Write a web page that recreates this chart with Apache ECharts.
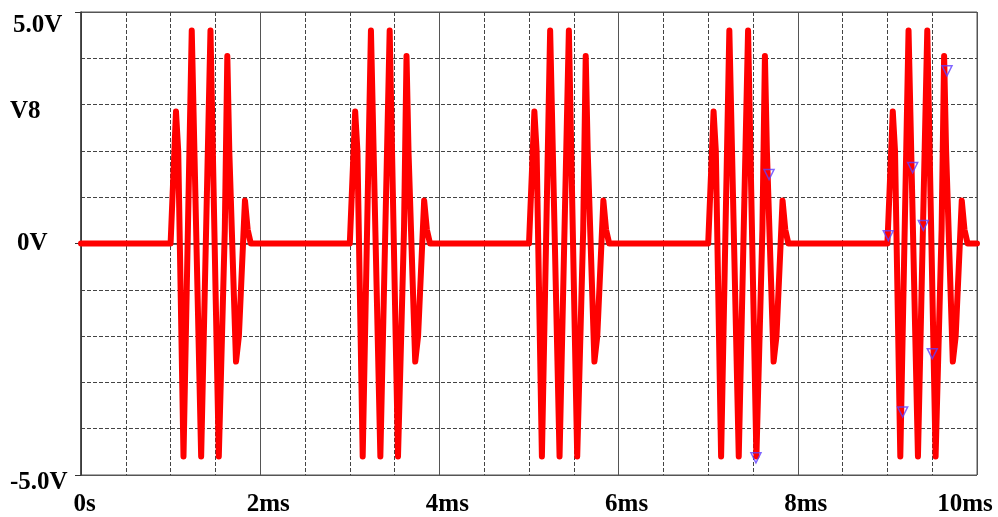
<!DOCTYPE html>
<html>
<head>
<meta charset="utf-8">
<script src="https://cdn.jsdelivr.net/npm/echarts@6/dist/echarts.min.js"></script>
<style>
html,body{margin:0;padding:0;background:#fff;}
#chart{width:998px;height:517px;}
</style>
</head>
<body>
<div id="chart"></div>
<script>
// ---- data ----
const traceName = 'V8';
const burstStarts = [1, 3, 5, 7, 9];               // ms
const burstOffsets = [0.000, 0.060, 0.085, 0.144, 0.156, 0.236, 0.248, 0.341, 0.353,
                      0.445, 0.457, 0.538, 0.550, 0.605, 0.633, 0.655, 0.730, 0.762,
                      0.830, 0.860, 0.895];         // ms after burst start
const burstVolts   = [0.00, 2.85, 2.00, -4.60, -4.60, 4.60, 4.60, -4.60, -4.60,
                      4.60, 4.60, -4.60, -4.60, 0.30, 4.05, 2.00, -2.55, -2.00,
                      0.93, 0.30, 0.00];            // V
const markerTimes = [7.533, 7.679, 9.010, 9.170, 9.282, 9.401, 9.501, 9.665];
const markerVolts = [-4.63, 1.49, 0.17, -3.64, 1.64, 0.39, -2.38, 3.73];
const xTickValues = [0, 2, 4, 6, 8, 10];
const xTickLabels = ['0s', '2ms', '4ms', '6ms', '8ms', '10ms'];
const yTickValues = [-5, 0, 5];
const yTickLabels = ['-5.0V', '0V', '5.0V'];

// ---- build series data ----
const lineData = [[0, 0]];
burstStarts.forEach(function (s) {
  burstOffsets.forEach(function (o, i) { lineData.push([s + o, burstVolts[i]]); });
});
lineData.push([10, 0]);
const markerData = markerTimes.map(function (t, i) { return [t, markerVolts[i]]; });

const FONT = '"Liberation Serif", "Times New Roman", serif';
const chart = echarts.init(document.getElementById('chart'), null, {renderer: 'canvas'});

chart.setOption({
  animation: false,
  backgroundColor: '#ffffff',
  grid: {left: 81, right: 21, top: 12, bottom: 41, show: true, borderColor: '#555', borderWidth: 1},
  xAxis: {
    type: 'value', min: 0, max: 10, interval: 2,
    axisLine: {show: true, lineStyle: {color: '#333', width: 1.5}},
    axisTick: {show: true, length: 6, inside: false, lineStyle: {color: '#333'}},
    minorTick: {show: true, splitNumber: 4, length: 0},
    splitLine: {show: true, lineStyle: {color: '#555', width: 1, type: 'solid'}},
    minorSplitLine: {show: true, lineStyle: {color: '#444', width: 1, type: [4, 2]}},
    axisLabel: {
      margin: 17,
      fontFamily: FONT, fontWeight: 'bold', fontSize: 25, color: '#000',
      formatter: function (v) {
        const i = xTickValues.indexOf(v);
        if (i < 0) return '';
        if (i === 0) return '{a|' + xTickLabels[i] + '}';
        if (i === xTickValues.length - 1) return '{c|' + xTickLabels[i] + '}';
        return '{b|' + xTickLabels[i] + '}';
      },
      rich: {
        a: {fontFamily: FONT, fontWeight: 'bold', fontSize: 25, color: '#000', padding: [0, 0, 0, 7]},
        b: {fontFamily: FONT, fontWeight: 'bold', fontSize: 25, color: '#000', padding: [0, 0, 0, 16]},
        c: {fontFamily: FONT, fontWeight: 'bold', fontSize: 25, color: '#000', padding: [0, 24, 0, 0]}
      }
    }
  },
  yAxis: {
    type: 'value', min: -5, max: 5, interval: 5,
    axisLine: {show: true, lineStyle: {color: '#333', width: 1.5}},
    axisTick: {show: true, length: 6, lineStyle: {color: '#333'}},
    minorTick: {show: true, splitNumber: 5, length: 0},
    splitLine: {show: true, lineStyle: {color: '#555', width: 1, type: 'solid'}},
    minorSplitLine: {show: true, lineStyle: {color: '#444', width: 1, type: [4, 2]}},
    axisLabel: {
      margin: 71, align: 'left',
      fontFamily: FONT, fontWeight: 'bold', fontSize: 25, color: '#000',
      formatter: function (v) {
        const i = yTickValues.indexOf(v);
        if (i < 0) return '';
        if (v === 5) return '{t|' + yTickLabels[i] + '}';
        if (v === 0) return '{m|' + yTickLabels[i] + '}';
        return '{l|' + yTickLabels[i] + '}';
      },
      rich: {
        t: {fontFamily: FONT, fontWeight: 'bold', fontSize: 25, color: '#000', padding: [28, 0, 0, 3]},
        m: {fontFamily: FONT, fontWeight: 'bold', fontSize: 25, color: '#000', padding: [0, 0, 0, 7]},
        l: {fontFamily: FONT, fontWeight: 'bold', fontSize: 25, color: '#000', padding: [16, 0, 0, 0]}
      }
    }
  },
  graphic: [{
    type: 'text', left: 10, top: 99,
    style: {text: traceName, font: 'bold 25px ' + FONT, fill: '#000'}
  }],
  series: [{
    name: traceName, type: 'line', data: lineData,
    showSymbol: false, symbol: 'none',
    lineStyle: {color: '#ff0000', width: 6, join: 'round', cap: 'round'},
    z: 3
  }, {
    name: 'markers', type: 'scatter', data: markerData,
    symbol: 'triangle', symbolRotate: 180, symbolSize: [10, 10],
    itemStyle: {color: 'rgba(0,0,0,0)', borderColor: '#6040ff', borderWidth: 1.5},
    z: 4
  }]
});
</script>
</body>
</html>
